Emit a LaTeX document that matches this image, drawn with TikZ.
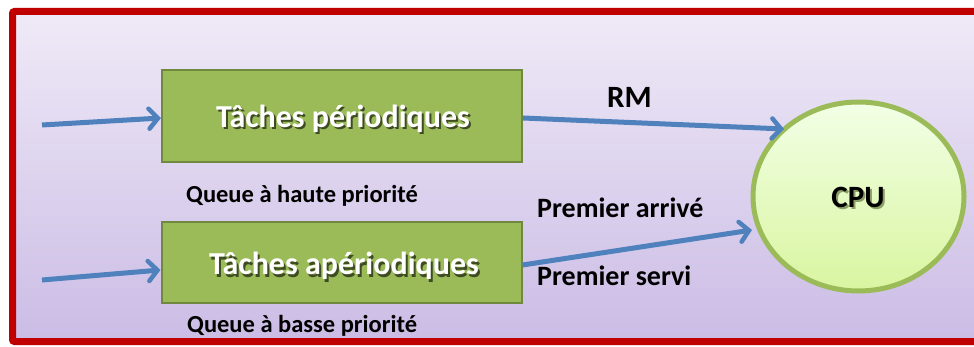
\documentclass[tikz,border=0pt]{standalone}
\usepackage{fontspec}
\setmainfont{Carlito}
\usetikzlibrary{arrows.meta,shapes.geometric}
\definecolor{frame}{HTML}{C00000}
\definecolor{bgtop}{HTML}{EFEAF7}
\definecolor{bgbot}{HTML}{CBBCE5}
\definecolor{boxfill}{HTML}{9BBB59}
\definecolor{boxline}{HTML}{71893F}
\definecolor{flow}{HTML}{4F81BD}
\definecolor{cputop}{HTML}{F2FFE6}
\definecolor{cpubot}{HTML}{D9F5A0}
% text with a soft drop shadow, set in a single box
\newcommand\dropshadow[2]{\rlap{\kern2pt\raisebox{-2pt}{\color{#1}#2}}#2}
\tikzset{
  taskbox/.style={draw=boxline, line width=2pt, fill=boxfill, minimum width=360pt, inner sep=0pt},
  flowarrow/.style={draw=flow, line width=5pt, -{Straight Barb[length=9pt, width=20pt, line width=4.5pt, line cap=round]}},
  bigfont/.style={font=\bfseries\fontsize{32}{36}\selectfont},
  boxtext/.style={bigfont, text=white, anchor=base, inner sep=0pt},
  label/.style={text=black, anchor=base west, inner sep=0pt},
  smalllabel/.style={label, font=\bfseries\fontsize{24.5}{28}\selectfont},
  midlabel/.style={label, font=\bfseries\fontsize{28}{32}\selectfont}
}
\begin{document}
\begin{tikzpicture}[x=1pt, y=-1pt]
  \useasboundingbox (0,0) rectangle (974,347);
  \clip (0,0) rectangle (974,347);
  \fill[white] (0,0) rectangle (974,347);
  % panel with gradient and red frame
  \shade[top color=bgtop, bottom color=bgbot] (12.5,11.5) rectangle (1010,341.5);
  \draw[frame, line width=7pt, rounded corners=2pt] (12.5,11.5) rectangle (1010,341.5);

  % queues
  \node[taskbox, minimum height=92pt] (per) at (342,116) {};
  \node[taskbox, minimum height=81pt] (aper) at (341.5,262.5) {};
  \node[boxtext] (perT) at (343,128) {\dropshadow{boxline!55!black}{Tâches périodiques}};
  \node[boxtext] (aperT) at (344,275) {\dropshadow{boxline!55!black}{Tâches apériodiques}};

  % processor
  \node[draw=boxfill, line width=5pt, ellipse, minimum width=211pt, minimum height=189pt,
        top color=cputop, bottom color=cpubot, inner sep=0pt] (cpu) at (858.5,196.5) {};
  \node[font=\bfseries\fontsize{31}{34}\selectfont, anchor=base, inner sep=0pt] (cpuT) at (858,208)
    {\dropshadow{black!35!cpubot}{CPU}};

  % incoming and outgoing flows
  \coordinate (in1) at (42,125);
  \coordinate (in2) at (42,280);
  \coordinate (cpuA) at (784,129);
  \coordinate (cpuB) at (752,230);
  \draw[flowarrow] (in1) -- (per.west |- 0,118);
  \draw[flowarrow] (in2) -- (aper.west |- 0,270);
  \draw[flowarrow] (per.east |- 0,118) -- (cpuA);
  \draw[flowarrow] (aper.east |- 0,265) -- (cpuB);

  % labels
  \node[label, font=\bfseries\fontsize{31}{34}\selectfont] (rm) at (607,108) {RM};
  \node[smalllabel] (qh) at (186,203) {Queue à haute priorité};
  \node[smalllabel] (qb) at (187,332) {Queue à basse priorité};
  \node[midlabel] (pa) at (537,218) {Premier arrivé};
  \node[midlabel] (ps) at (537,285) {Premier servi};
\end{tikzpicture}
\end{document}
